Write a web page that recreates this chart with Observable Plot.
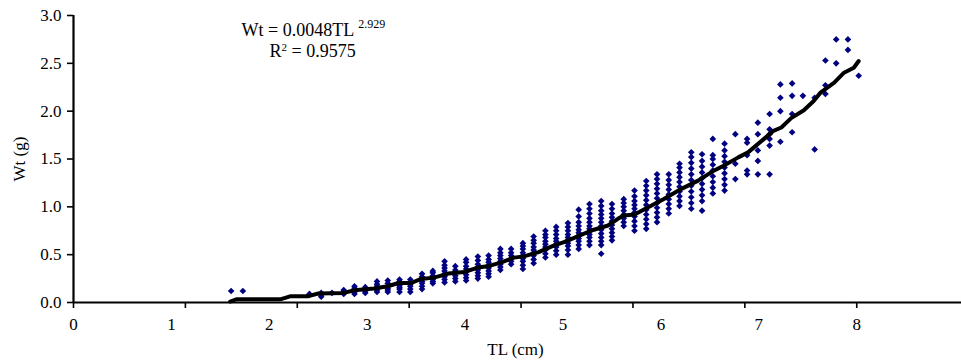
<!DOCTYPE html>
<html>
<head>
<meta charset="utf-8">
<script src="https://cdn.jsdelivr.net/npm/d3@7"></script>
<script src="https://cdn.jsdelivr.net/npm/@observablehq/plot@0.6"></script>
<style>
  html, body { margin: 0; padding: 0; background: #fff; }
</style>
</head>
<body>
<div id="chart"></div>
<script>
// ---- Data ----
// Total length (cm) of each measured column of fish
const colTL = [1.61, 1.73, 2.41, 2.53, 2.64, 2.76, 2.87, 2.98, 3.10, 3.21, 3.33, 3.44, 3.56, 3.67, 3.79,
  3.90, 4.01, 4.13, 4.24, 4.36, 4.47, 4.59, 4.70, 4.82, 4.93, 5.05, 5.16, 5.27, 5.39, 5.50, 5.62,
  5.73, 5.85, 5.96, 6.08, 6.19, 6.31, 6.42, 6.53, 6.65, 6.76, 6.88, 6.99, 7.11, 7.22, 7.34, 7.45,
  7.57, 7.68, 7.79, 7.91, 8.02];
// Weights (g) observed in each column
const colWt = [
  [0.12], [0.12],
  [0.08, 0.09], [0.06, 0.08, 0.10], [0.10], [0.09, 0.11, 0.13], [0.09, 0.11, 0.13, 0.15, 0.17],
  [0.10, 0.12, 0.14, 0.16], [0.11, 0.13, 0.15, 0.17, 0.19, 0.22], [0.11, 0.13, 0.15, 0.17, 0.20, 0.23],
  [0.11, 0.14, 0.16, 0.18, 0.20, 0.22, 0.24], [0.11, 0.14, 0.17, 0.19, 0.21, 0.24],
  [0.14, 0.17, 0.20, 0.22, 0.25, 0.27, 0.30], [0.20, 0.22, 0.24, 0.26, 0.28, 0.31, 0.33],
  [0.21, 0.24, 0.27, 0.30, 0.33, 0.36, 0.39, 0.43], [0.22, 0.25, 0.28, 0.31, 0.34, 0.38],
  [0.23, 0.26, 0.29, 0.32, 0.35, 0.38, 0.42, 0.45], [0.25, 0.28, 0.31, 0.34, 0.37, 0.40, 0.44, 0.48],
  [0.27, 0.30, 0.33, 0.36, 0.39, 0.42, 0.45, 0.49], [0.34, 0.37, 0.40, 0.43, 0.46, 0.49, 0.52, 0.56],
  [0.40, 0.43, 0.46, 0.49, 0.52, 0.56], [0.35, 0.39, 0.43, 0.46, 0.49, 0.52, 0.56, 0.59, 0.62],
  [0.41, 0.45, 0.49, 0.52, 0.55, 0.58, 0.62, 0.65, 0.69], [0.47, 0.51, 0.55, 0.58, 0.61, 0.64, 0.68, 0.71, 0.75],
  [0.50, 0.54, 0.58, 0.61, 0.64, 0.67, 0.71, 0.75, 0.79], [0.50, 0.55, 0.59, 0.62, 0.65, 0.68, 0.71, 0.75, 0.79, 0.83],
  [0.56, 0.60, 0.64, 0.67, 0.70, 0.73, 0.76, 0.80, 0.84, 0.90, 0.97],
  [0.60, 0.64, 0.68, 0.71, 0.74, 0.77, 0.80, 0.84, 0.88, 0.93, 0.98, 1.03],
  [0.51, 0.60, 0.64, 0.68, 0.72, 0.76, 0.80, 0.84, 0.88, 0.92, 0.96, 1.01, 1.06],
  [0.65, 0.69, 0.73, 0.77, 0.81, 0.85, 0.89, 0.93, 0.98, 1.03],
  [0.80, 0.84, 0.88, 0.92, 0.96, 1.00, 1.04, 1.08],
  [0.75, 0.80, 0.85, 0.90, 0.94, 0.98, 1.02, 1.06, 1.11, 1.17],
  [0.77, 0.82, 0.87, 0.92, 0.97, 1.02, 1.07, 1.12, 1.17, 1.22, 1.27],
  [0.84, 0.89, 0.94, 0.99, 1.04, 1.09, 1.14, 1.19, 1.24, 1.29, 1.34],
  [0.93, 0.98, 1.03, 1.08, 1.13, 1.18, 1.23, 1.28, 1.34],
  [1.01, 1.06, 1.11, 1.16, 1.21, 1.26, 1.31, 1.36, 1.41, 1.45],
  [0.98, 1.04, 1.10, 1.16, 1.22, 1.28, 1.34, 1.40, 1.46, 1.52, 1.57],
  [0.96, 1.06, 1.12, 1.18, 1.24, 1.30, 1.36, 1.42, 1.48, 1.55],
  [1.14, 1.20, 1.26, 1.32, 1.38, 1.44, 1.50, 1.54, 1.71],
  [1.17, 1.23, 1.29, 1.35, 1.41, 1.47, 1.53, 1.59, 1.66],
  [1.29, 1.45, 1.76], [1.34, 1.38, 1.54, 1.67, 1.71], [1.34, 1.48, 1.59, 1.76, 1.88],
  [1.34, 1.64, 1.71, 1.76, 1.81, 1.97], [1.68, 2.00, 2.14, 2.28], [1.78, 1.97, 2.16, 2.29],
  [2.16], [1.60, 2.14], [2.18, 2.27, 2.53], [2.50, 2.75], [2.64, 2.75], [2.37]
];
// Fitted curve (as drawn)
const fitTL = [1.60, 1.67, 2.12, 2.22, 2.40, 2.50, 2.76, 2.87, 3.07, 3.21, 3.32, 3.45, 3.55, 3.68, 3.83,
  3.99, 4.13, 4.23, 4.37, 4.50, 4.60, 4.75, 4.91, 5.01, 5.15, 5.29, 5.46, 5.56, 5.62, 5.73, 5.87,
  6.03, 6.21, 6.38, 6.54, 6.64, 6.79, 6.89, 7.05, 7.15, 7.23, 7.33, 7.46, 7.56, 7.63, 7.77, 7.87, 7.97, 8.02];
const fitWt = [0.01, 0.035, 0.035, 0.066, 0.066, 0.094, 0.100, 0.128, 0.146, 0.170, 0.204, 0.204, 0.246,
  0.260, 0.302, 0.319, 0.365, 0.378, 0.420, 0.469, 0.482, 0.527, 0.597, 0.631, 0.691, 0.753, 0.805,
  0.875, 0.909, 0.920, 0.996, 1.083, 1.188, 1.274, 1.378, 1.430, 1.517, 1.569, 1.708, 1.795, 1.829,
  1.927, 2.010, 2.107, 2.194, 2.298, 2.402, 2.454, 2.524];
// Axis ticks
const xTickLabels = [0, 1, 2, 3, 4, 5, 6, 7, 8];
const xTickMarks = d3.range(8).map(k => k * 8 / 7);   // tick marks as drawn (7 equal steps)
const yTicks = [0, 0.5, 1, 1.5, 2, 2.5, 3];
const eqLine1 = "Wt = 0.0048TL";
const eqExp = "2.929";
const eqLine2a = "R";
const eqLine2b = " = 0.9575";

// ---- Build tables ----
const points = colTL.flatMap((tl, i) => colWt[i].map(w => ({tl, w})));
const fit = fitTL.map((tl, i) => ({tl, w: fitWt[i]}));

const navy = "#000080";
const font = "\"Liberation Serif\", \"Times New Roman\", serif";

const plot = Plot.plot({
  width: 961,
  height: 362,
  marginLeft: 73,
  marginRight: 0,
  marginTop: 15,
  marginBottom: 60,
  style: {fontFamily: font, fontSize: "17px", background: "white", color: "black"},
  x: {domain: [0, 9.07]},
  y: {domain: [0, 3]},
  marks: [
    Plot.dot(points, {x: "tl", y: "w", symbol: "diamond2", r: 3, fill: navy, stroke: "none"}),
    Plot.line(fit, {x: "tl", y: "w", stroke: "black", strokeWidth: 4, strokeLinejoin: "round", strokeLinecap: "round"}),
    Plot.axisY({ticks: yTicks, tickSize: 6, tickPadding: 6, tickFormat: d3.format(".1f"), label: null, strokeWidth: 1.6, fontSize: 17}),
    Plot.axisX({ticks: xTickLabels, tickSize: 0, tickPadding: 15, tickFormat: d3.format("d"), label: null, fontSize: 17}),
    Plot.axisX({ticks: xTickMarks, tickSize: 6, tickFormat: () => "", label: null, strokeWidth: 1.6}),
    Plot.ruleX([0], {y1: 0, y2: 3, stroke: "black", strokeWidth: 2.2}),
    Plot.ruleY([0], {x1: 0, x2: 9.07, stroke: "black", strokeWidth: 2.2}),
    Plot.text([eqLine1], {text: d => d, frameAnchor: "top-left", dx: 168, dy: 20, textAnchor: "start", lineAnchor: "bottom", fontSize: 18, className: "eq1"}),
    Plot.text([eqLine2a], {text: d => d, frameAnchor: "top-left", dx: 196, dy: 41, textAnchor: "start", lineAnchor: "bottom", fontSize: 18, className: "eq2"}),
    Plot.text(["TL (cm)"], {text: d => d, frameAnchor: "bottom", dx: -2, dy: 52, lineAnchor: "bottom", fontSize: 17}),
    Plot.text(["Wt (g)"], {text: d => d, frameAnchor: "left", dx: -54, rotate: -90, textAnchor: "middle", lineAnchor: "middle", fontSize: 17})
  ]
});

// superscripts as tspans on the equation lines
d3.select(plot).select(".eq1 text").append("tspan").attr("dx", "4").attr("dy", "-8").attr("font-size", 12).text(eqExp);
const t2 = d3.select(plot).select(".eq2 text");
t2.append("tspan").attr("dy", "-6").attr("font-size", 11).text("2");
t2.append("tspan").attr("dy", "6").text(eqLine2b);

document.getElementById("chart").appendChild(plot);
</script>
</body>
</html>
